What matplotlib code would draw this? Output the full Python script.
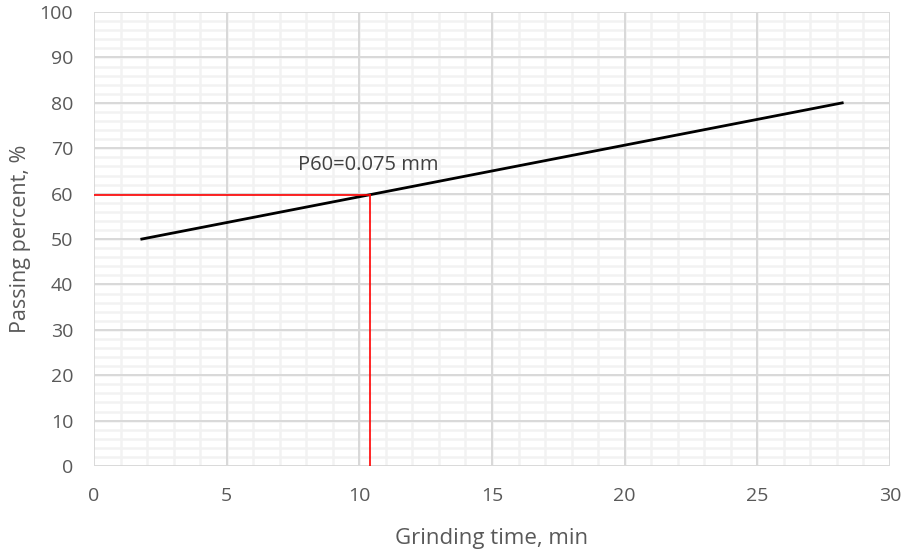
import numpy as np
import matplotlib.pyplot as plt
from matplotlib.ticker import MultipleLocator

# grinding curve
time_min = [1.8, 28.2]
passing_pct = [50, 80]

# P60 read-off point
p60_time = 10.4
p60_pass = 59.6
p60_label = "P60=0.075 mm"

plt.rcParams['font.family'] = ['Open Sans', 'DejaVu Sans']

fig = plt.figure(figsize=(9.06, 5.5), dpi=100)
ax = fig.add_axes([0.1038, 0.1527, 0.8785, 0.8253])

ax.set_xlim(0, 30)
ax.set_ylim(0, 100)
ax.xaxis.set_major_locator(MultipleLocator(5))
ax.yaxis.set_major_locator(MultipleLocator(10))

# light minor grid underneath, darker major grid on top of it
ax.vlines(np.arange(1, 30), 0, 100, color='#f2f2f2', linewidth=1.8, zorder=0.1)
ax.hlines(np.arange(2, 100, 2), 0, 30, color='#f2f2f2', linewidth=1.8, zorder=0.1)
ax.grid(which='major', color='#d9d9d9', linewidth=1.4)
ax.set_axisbelow(True)
for s in ax.spines.values():
    s.set_visible(False)
ax.tick_params(which='both', length=0, colors='#595959', labelsize=14)
ax.tick_params(axis='x', pad=15)
ax.tick_params(axis='y', pad=15)

ax.plot(time_min, passing_pct, color='black', linewidth=2, zorder=3)
ax.plot([0, p60_time], [p60_pass, p60_pass], color='#ff0000', linewidth=1.2, zorder=4)
ax.plot([p60_time, p60_time], [0, p60_pass], color='#ff0000', linewidth=1.2, zorder=4)
ax.text(7.7, 66.3, p60_label, fontsize=14.5, color='#404040', va='center', ha='left')

ax.set_xlabel("Grinding time, min", fontsize=16, color='#595959', labelpad=17)
ax.set_ylabel("Passing percent, %", fontsize=15.5, color='#595959', labelpad=6)

fig.savefig("out.png", dpi=100)
